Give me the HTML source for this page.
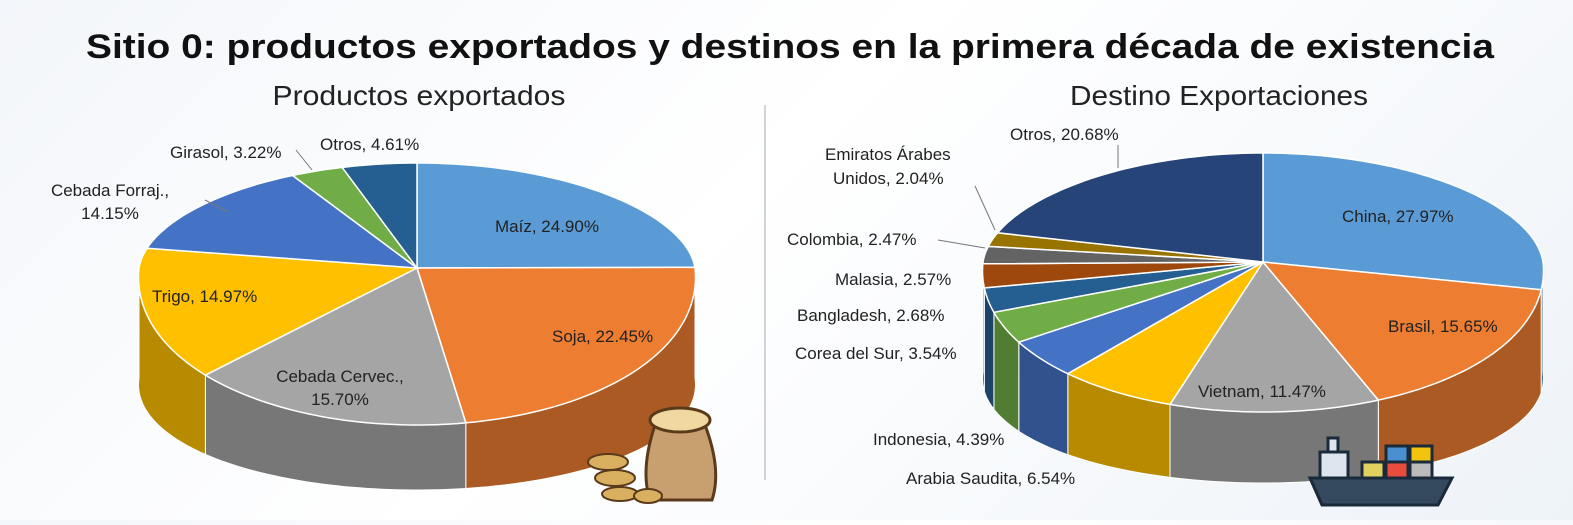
<!DOCTYPE html>
<html><head><meta charset="utf-8"><style>
html,body{margin:0;padding:0;}
body{width:1573px;height:520px;overflow:hidden;background:linear-gradient(135deg,#f3f6fa 0%,#ffffff 45%,#eef3f8 100%);font-family:"Liberation Sans",sans-serif;}
svg text{font-family:"Liberation Sans",sans-serif;fill:#222;}
</style></head><body>
<svg id="s" width="1573" height="520" xmlns="http://www.w3.org/2000/svg">
<line x1="765" y1="105" x2="765" y2="480" stroke="#d0d4d8" stroke-width="2"/>
<g id="p1"></g><g id="p2"></g>
<text x="790" y="58" text-anchor="middle" font-size="34" font-weight="bold" textLength="1408" lengthAdjust="spacingAndGlyphs" style="fill:#111">Sitio 0: productos exportados y destinos en la primera década de existencia</text>
<text x="419" y="105" text-anchor="middle" font-size="28" textLength="293" lengthAdjust="spacingAndGlyphs">Productos exportados</text>
<text x="1219" y="105" text-anchor="middle" font-size="28" textLength="298" lengthAdjust="spacingAndGlyphs">Destino Exportaciones</text>
<g font-size="17">
<text x="495" y="232">Maíz, 24.90%</text>
<text x="552" y="342">Soja, 22.45%</text>
<text x="340" y="382" text-anchor="middle">Cebada Cervec.,</text>
<text x="340" y="405" text-anchor="middle">15.70%</text>
<text x="152" y="302">Trigo, 14.97%</text>
<text x="110" y="196" text-anchor="middle">Cebada Forraj.,</text>
<text x="110" y="219" text-anchor="middle">14.15%</text>
<text x="170" y="158">Girasol, 3.22%</text>
<text x="320" y="150">Otros, 4.61%</text>
<text x="1342" y="222">China, 27.97%</text>
<text x="1388" y="332">Brasil, 15.65%</text>
<text x="1198" y="397">Vietnam, 11.47%</text>
<text x="906" y="484">Arabia Saudita, 6.54%</text>
<text x="873" y="445">Indonesia, 4.39%</text>
<text x="795" y="359">Corea del Sur, 3.54%</text>
<text x="797" y="321">Bangladesh, 2.68%</text>
<text x="835" y="285">Malasia, 2.57%</text>
<text x="787" y="245">Colombia, 2.47%</text>
<text x="825" y="160">Emiratos Árabes</text>
<text x="833" y="184">Unidos, 2.04%</text>
<text x="1010" y="140">Otros, 20.68%</text>
</g>
<g stroke="#777" stroke-width="1" fill="none">
<line x1="205" y1="200" x2="228" y2="212"/>
<line x1="296" y1="150" x2="312" y2="170"/>
<line x1="975" y1="186" x2="995" y2="230"/>
<line x1="938" y1="240" x2="985" y2="248"/>
<line x1="1118" y1="145" x2="1118" y2="168"/>
</g>
<!-- sack icon -->
<g>
<path d="M655 425 Q640 470 650 500 L712 500 Q722 470 705 425 Z" fill="#c8a070" stroke="#5a3a1a" stroke-width="3"/>
<ellipse cx="680" cy="420" rx="30" ry="12" fill="#f0d8a0" stroke="#5a3a1a" stroke-width="3"/>
<g fill="#d9b060" stroke="#5a3a1a" stroke-width="2">
<ellipse cx="608" cy="462" rx="20" ry="8"/><ellipse cx="615" cy="478" rx="20" ry="8"/><ellipse cx="620" cy="494" rx="18" ry="7"/><ellipse cx="648" cy="496" rx="14" ry="7"/>
</g>
</g>
<!-- ship icon -->
<g stroke="#1a2a3a" stroke-width="3">
<rect x="1362" y="462" width="22" height="16" fill="#e0d060"/><rect x="1386" y="462" width="22" height="16" fill="#e74c3c"/>
<rect x="1386" y="446" width="22" height="16" fill="#4a90d0"/><rect x="1410" y="462" width="22" height="16" fill="#bbbbbb"/><rect x="1410" y="446" width="22" height="16" fill="#f1c40f"/>
<rect x="1320" y="452" width="28" height="26" fill="#dde6ee"/>
<rect x="1328" y="438" width="10" height="14" fill="#dde6ee"/>
<path d="M1310 478 L1452 478 L1438 505 L1322 505 Z" fill="#34495e"/>
</g>
</svg>
<script>
function shade(h,f){var n=parseInt(h.slice(1),16);var r=(n>>16)&255,g=(n>>8)&255,b=n&255;return "rgb("+Math.round(r*f)+","+Math.round(g*f)+","+Math.round(b*f)+")";}
function pie(id,cx,cy,rx,ryB,ryF,k,d0,ryBot,data){
 var g=document.getElementById(id),a=-90,sl=[];
 data.forEach(function(x){sl.push([a,a+x[0]*3.6,x[1]]);a+=x[0]*3.6;});
 function T(t){t=t*Math.PI/180;var s=Math.sin(t),c=Math.cos(t);return [cx+rx*c*(1+k*s),cy+(s<0?ryB:ryF)*s];}
 function B(t){t=t*Math.PI/180;var s=Math.sin(t),c=Math.cos(t);return [cx+rx*c*(1+k*s),cy+d0+ryBot*s];}
 function arc(f,a1,a2){var n=Math.max(2,Math.ceil(Math.abs(a2-a1)/1.5)),p=[];for(var i=0;i<=n;i++){var q=f(a1+(a2-a1)*i/n);p.push(q[0].toFixed(1)+","+q[1].toFixed(1));}return p;}
 var sides="",tops="";
 sl.forEach(function(s){
  [[0,180],[360,540]].forEach(function(r){
   var s1=Math.max(s[0],r[0]),s2=Math.min(s[1],r[1]);
   if(s2>s1){var pts=arc(T,s1,s2).concat(arc(B,s2,s1));
    sides+='<path d="M'+pts.join(" L")+' Z" fill="'+shade(s[2],0.72)+'" stroke="#fff" stroke-width="1"/>';}
  });
  tops+='<path d="M'+cx+','+cy+' L'+arc(T,s[0],s[1]).join(" L")+' Z" fill="'+s[2]+'" stroke="#fff" stroke-width="1.5"/>';
 });
 g.innerHTML=sides+tops;
}
pie("p1",417,268,278,105,157,0.06,110,112,[[24.90,"#5b9bd5"],[22.45,"#ed7d31"],[15.70,"#a5a5a5"],[14.97,"#ffc000"],[14.15,"#4472c4"],[3.22,"#70ad47"],[4.61,"#255e91"]]);
pie("p2",1263,262,280,109,150,0.06,110,111,[[27.97,"#5b9bd5"],[15.65,"#ed7d31"],[11.47,"#a5a5a5"],[6.54,"#ffc000"],[4.39,"#4472c4"],[3.54,"#70ad47"],[2.68,"#255e91"],[2.57,"#9e480e"],[2.47,"#636363"],[2.04,"#997300"],[20.68,"#264478"]]);
</script>
</body></html>
